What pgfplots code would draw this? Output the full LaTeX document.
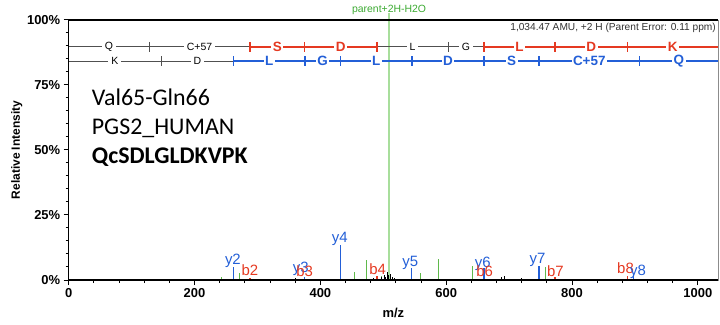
\documentclass[border=0pt]{standalone}
\usepackage{pgfplots}
\pgfplotsset{compat=1.18}
\usepackage{fontspec}
\setmainfont{Liberation Sans}
\newfontfamily\carlito{Carlito}
\definecolor{ionred}{RGB}{229,57,33}
\definecolor{ionblue}{RGB}{35,95,215}
\definecolor{pkgreen}{RGB}{95,185,75}
\definecolor{parentgreen}{RGB}{110,200,90}
\definecolor{lblgreen}{RGB}{60,170,50}
\definecolor{ladgray}{RGB}{80,80,80}
\newcommand{\fs}[1]{\fontsize{#1}{#1}\selectfont}
\tikzset{
  blk/.style={fill=white, inner xsep=3bp, inner ysep=0.5bp, text=black, font=\fs{10.5}},
  rl/.style={fill=white, inner xsep=1.5bp, inner ysep=0.5bp, text=ionred, font=\bfseries\fs{13.5}},
  bl/.style={fill=white, inner xsep=1.5bp, inner ysep=0.5bp, text=ionblue, font=\bfseries\fs{13.5}},
  ionlab/.style={inner sep=0pt, font=\fs{15}, anchor=center},
}
\begin{document}
\begin{tikzpicture}
\useasboundingbox (-68.7bp,-45bp) rectangle (651.3bp,280bp);
\begin{axis}[
  at={(0,0)}, anchor=south west,
  scale only axis, width=649.3bp, height=260bp,
  xmin=0, xmax=1032, ymin=0, ymax=100,
  clip=false,
  axis line style={line width=0.6bp, black!45},
  xtick={0,200,400,600,800,1000}, minor x tick num=4,
  ytick={0,25,50,75,100}, minor y tick num=4,
  xtick pos=bottom, ytick pos=left,
  tick align=outside,
  major tick length=5bp, minor tick length=3bp,
  every tick/.style={black, line width=1bp},
  /pgf/number format/assume math mode=true,
  /pgf/number format/1000 sep={},
  yticklabel={\pgfmathprintnumber{\tick}\%},
  tick label style={font=\bfseries\fs{13}},
  xlabel={m/z}, ylabel={Relative Intensity},
  every axis x label/.style={at={(axis description cs:0.5,0)}, anchor=center, yshift=-33bp, font=\bfseries\fs{13}},
  every axis y label/.style={at={(axis description cs:-0.080,0.5)}, rotate=90, anchor=center, font=\bfseries\fs{12}},
]
% parent marker
\addplot[parentgreen, line width=1.3bp, opacity=0.6] coordinates {(509.2,0) (509.2,102.5)};
% green peaks
\addplot[ycomb, pkgreen, line width=0.8bp, mark=none] coordinates {
 (243,1.3) (271,2.6) (454.6,3.2) (473,7.7) (497,1.5) (559,2.8) (587,8.0) (642.4,5.4) (757,4.9)};
% black small peaks
\addplot[ycomb, black, line width=0.8bp, mark=none] coordinates {
 (360,0.6) (430,0.5) (484,0.8) (497,1.3) (501,2.0) (503,1.2) (506,3.0) (508,1.8) (511,2.2) (514,1.0) (518,0.7) (688,1.2) (692,1.5) (720,0.6)};
% red b ions
\addplot[ycomb, ionred, line width=1.2bp, mark=none] coordinates {
 (288,0.8) (375,1.2) (490,1.5) (660,1.0) (773,1.0) (888,1.5)};
% blue y ions
\addplot[ycomb, ionblue, line width=1.4bp, mark=none] coordinates {
 (262.1,5.1) (375.2,1.0) (432.2,13.5) (545.3,4.5) (660.3,4.5) (747.4,5.4) (898,2.0)};

% ---- fragment ladder, b row
\addplot[ladgray, line width=0.9bp, mark=none] coordinates {(0,89.7) (288,89.7)};
\addplot[ladgray, line width=0.9bp, mark=none] coordinates {(490,89.7) (660,89.7)};
\addplot[ionred, line width=1.5bp, mark=none] coordinates {(288,89.7) (490,89.7)};
\addplot[ionred, line width=1.5bp, mark=none] coordinates {(660,89.7) (1032,89.7)};
\addplot[only marks, ladgray, mark=|, mark size=5bp, mark options={line width=0.9bp}] coordinates {(128,89.7) (603,89.7)};
\addplot[only marks, ionred, mark=|, mark size=5bp, mark options={line width=1.5bp}] coordinates {(288,89.7) (375,89.7) (490,89.7) (660,89.7) (773,89.7) (888,89.7)};
% ---- y row
\addplot[ladgray, line width=0.9bp, mark=none] coordinates {(0,84.2) (262.1,84.2)};
\addplot[ionblue, line width=1.5bp, mark=none] coordinates {(262.1,84.2) (1032,84.2)};
\addplot[only marks, ladgray, mark=|, mark size=5bp, mark options={line width=0.9bp}] coordinates {(147.1,84.2)};
\addplot[only marks, ionblue, mark=|, mark size=5bp, mark options={line width=1.5bp}] coordinates {(262.1,84.2) (375.2,84.2) (432.2,84.2) (545.3,84.2) (660.3,84.2) (747.4,84.2) (907.4,84.2)};

% ladder labels b row
\node[blk] at (axis cs:64,89.7) {Q};
\node[blk] at (axis cs:208,89.7) {C+57};
\node[rl] at (axis cs:331.5,89.7) {S};
\node[rl] at (axis cs:432.5,89.7) {D};
\node[blk] at (axis cs:546.5,89.7) {L};
\node[blk] at (axis cs:631.5,89.7) {G};
\node[rl] at (axis cs:716.5,89.7) {L};
\node[rl] at (axis cs:830.5,89.7) {D};
\node[rl] at (axis cs:960,89.7) {K};
% ladder labels y row
\node[blk] at (axis cs:73.5,84.2) {K};
\node[blk] at (axis cs:204.6,84.2) {D};
\node[bl] at (axis cs:318.7,84.2) {L};
\node[bl] at (axis cs:403.7,84.2) {G};
\node[bl] at (axis cs:488.8,84.2) {L};
\node[bl] at (axis cs:602.8,84.2) {D};
\node[bl] at (axis cs:703.9,84.2) {S};
\node[bl] at (axis cs:827.4,84.2) {C+57};
\node[bl] at (axis cs:969.7,84.2) {Q};

% ion labels
\node[ionlab, text=ionblue] at (axis cs:261,7.3) {y2};
\node[ionlab, text=ionred] at (axis cs:288,3.8) {b2};
\node[ionlab, text=ionblue] at (axis cs:369,4.2) {y3};
\node[ionlab, text=ionred] at (axis cs:375,3.5) {b3};
\node[ionlab, text=ionblue] at (axis cs:431,15.8) {y4};
\node[ionlab, text=ionred] at (axis cs:491,4.2) {b4};
\node[ionlab, text=ionblue] at (axis cs:543,6.5) {y5};
\node[ionlab, text=ionblue] at (axis cs:658,6.2) {y6};
\node[ionlab, text=ionred] at (axis cs:661,3.5) {b6};
\node[ionlab, text=ionblue] at (axis cs:745,7.7) {y7};
\node[ionlab, text=ionred] at (axis cs:773.5,3.5) {b7};
\node[ionlab, text=ionred] at (axis cs:885,4.6) {b8};
\node[ionlab, text=ionblue] at (axis cs:905,3.1) {y8};

% annotations
\node[anchor=south, inner sep=0pt, text=lblgreen, font=\fs{10.5}] at (axis cs:509.2,102.0) {parent+2H-H2O};
\node[anchor=east, inner sep=0pt, text=black!80, font=\fs{10.2}] at (axis description cs:0.997,0.969) {1,034.47 AMU, +2 H (Parent Error: 0.11 ppm)};
\node[anchor=base west, inner sep=0pt, font=\carlito\fs{24}] at (axis description cs:0.0354,0.673) {Val65-Gln66};
\node[anchor=base west, inner sep=0pt, font=\carlito\fs{24}] at (axis description cs:0.0354,0.5615) {PGS2\_HUMAN};
\node[anchor=base west, inner sep=0pt, font=\carlito\bfseries\fs{24}] at (axis description cs:0.0354,0.4488) {QcSDLGLDKVPK};

% heavy frame lines
\draw[line width=1.6bp, black] (rel axis cs:0,1) -- (rel axis cs:0,0) -- (rel axis cs:1,0);
\draw[line width=1.4bp, black] (rel axis cs:0,1) -- (rel axis cs:1,1);
\end{axis}
\end{tikzpicture}
\end{document}
